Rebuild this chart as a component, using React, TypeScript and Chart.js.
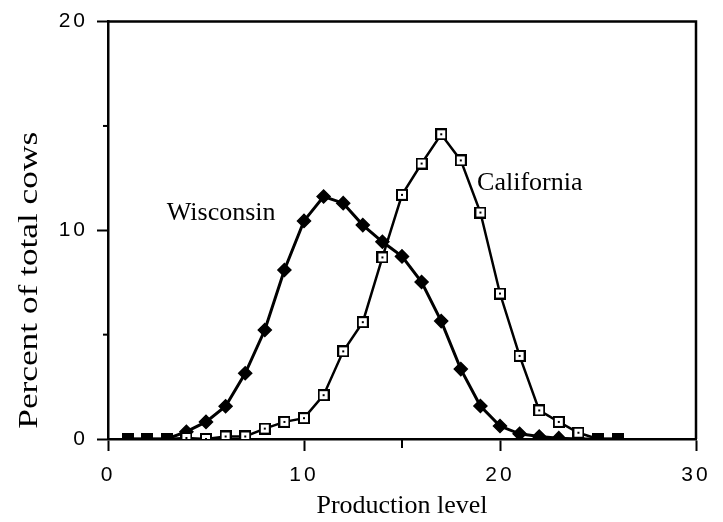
import React, { useEffect, useRef } from 'react';
import { Chart, registerables } from 'chart.js';

Chart.register(...registerables);

// Production levels (x)
const levels = [1, 2, 3, 4, 5, 6, 7, 8, 9, 10, 11, 12, 13, 14, 15, 16, 17, 18, 19, 20, 21, 22, 23, 24, 25, 26];
// Percent of total cows
const wisconsin = [0, 0, 0, 0.35, 0.82, 1.57, 3.15, 5.22, 8.1, 10.45, 11.62, 11.3, 10.25, 9.45, 8.75, 7.52, 5.65, 3.35, 1.58, 0.62, 0.25, 0.12, 0.04, 0, 0, 0];
const california = [0, 0, 0, 0.05, 0, 0.12, 0.12, 0.5, 0.82, 1.0, 2.1, 4.2, 5.6, 8.7, 11.7, 13.2, 14.6, 13.35, 10.85, 6.97, 3.98, 1.37, 0.82, 0.3, 0, 0];

const seriesNames = ['California', 'Wisconsin'];
const xTitle = 'Production level';
const yTitle = 'Percent of total cows';
const xLabelled = [0, 10, 20, 30];
const yLabelled = [0, 10, 20];
const xMinor = [15];
const yMinor = [5, 15];
const labelNotes = [
  { text: 'Wisconsin', x: 3.0, y: 10.47 },
  { text: 'California', x: 18.83, y: 11.94 },
];

function makeOpenSquare(): HTMLCanvasElement {
  const c = document.createElement('canvas');
  c.width = 12;
  c.height = 12;
  const g = c.getContext('2d')!;
  g.fillStyle = '#fff';
  g.fillRect(0, 0, 12, 12);
  g.strokeStyle = '#000';
  g.lineWidth = 2;
  g.strokeRect(1, 1, 10, 10);
  g.fillStyle = '#000';
  g.fillRect(5, 5, 2, 2);
  return c;
}

function makeFilledSquare(): HTMLCanvasElement {
  const c = document.createElement('canvas');
  c.width = 12;
  c.height = 12;
  const g = c.getContext('2d')!;
  g.fillStyle = '#000';
  g.fillRect(0, 0, 12, 12);
  return c;
}

const framePlugin = {
  id: 'frameAndNotes',
  beforeDatasetsDraw(chart: any) {
    const { ctx, chartArea: a, scales } = chart;
    ctx.save();
    ctx.strokeStyle = '#000';
    ctx.lineWidth = 2.5;
    ctx.beginPath();
    ctx.moveTo(a.left, a.top);
    ctx.lineTo(a.right, a.top);
    ctx.lineTo(a.right, a.bottom);
    ctx.stroke();
    ctx.lineWidth = 2;
    xMinor.forEach((v) => {
      const px = scales.x.getPixelForValue(v);
      ctx.beginPath();
      ctx.moveTo(px, a.bottom);
      ctx.lineTo(px, a.bottom + 9);
      ctx.stroke();
    });
    yMinor.forEach((v) => {
      const py = scales.y.getPixelForValue(v);
      ctx.beginPath();
      ctx.moveTo(a.left - 5, py);
      ctx.lineTo(a.left, py);
      ctx.stroke();
    });
    // y axis title (stretched along its length like the scanned original)
    const cy = (scales.y.getPixelForValue(0) + scales.y.getPixelForValue(20)) / 2 + 50;
    ctx.translate(37, cy);
    ctx.rotate(-Math.PI / 2);
    ctx.scale(1.26, 1);
    ctx.fillStyle = '#000';
    ctx.font = '28px "Liberation Serif"';
    ctx.textAlign = 'center';
    ctx.textBaseline = 'alphabetic';
    ctx.fillText(yTitle, 0, 0);
    ctx.restore();
  },
  afterDatasetsDraw(chart: any) {
    const { ctx, scales } = chart;
    ctx.save();
    ctx.fillStyle = '#000';
    ctx.font = '26px "Liberation Serif"';
    ctx.textAlign = 'left';
    ctx.textBaseline = 'alphabetic';
    labelNotes.forEach((n) => {
      ctx.fillText(n.text, scales.x.getPixelForValue(n.x), scales.y.getPixelForValue(n.y));
    });
    ctx.restore();
    (ctx as any).letterSpacing = '3px';
  },
  afterDraw(chart: any) {
    (chart.ctx as any).letterSpacing = '0px';
  },
};

export default function App() {
  const ref = useRef<HTMLCanvasElement>(null);

  useEffect(() => {
    if (!ref.current) return;
    const openSq = makeOpenSquare();
    const filledSq = makeFilledSquare();
    const bothZero = levels.map((_, i) => wisconsin[i] === 0 && california[i] === 0);

    const chart = new Chart(ref.current, {
      type: 'line',
      data: {
        datasets: [
          {
            label: seriesNames[0],
            data: levels.map((x, i) => ({ x, y: california[i] })),
            borderColor: '#000',
            borderWidth: 2.5,
            backgroundColor: '#000',
            pointStyle: bothZero.map((z) => (z ? filledSq : openSq)) as any,
            pointRadius: 6,
            tension: 0,
          },
          {
            label: seriesNames[1],
            data: levels.map((x, i) => ({ x, y: wisconsin[i] })),
            borderColor: '#000',
            borderWidth: 3,
            backgroundColor: '#000',
            pointBackgroundColor: '#000',
            pointBorderColor: '#000',
            pointBorderWidth: 1.5,
            pointStyle: 'rectRot',
            pointRadius: bothZero.map((z) => (z ? 0 : 6.5)),
            tension: 0,
          },
        ],
      },
      options: {
        animation: false,
        responsive: false,
        layout: { padding: { top: 16, right: 27, left: 0, bottom: 0 } },
        plugins: {
          legend: { display: false },
          tooltip: { enabled: false },
        },
        scales: {
          x: {
            type: 'linear',
            position: 'bottom',
            min: 0,
            max: 30,
            afterFit: (s: any) => {
              s.height = 83;
            },
            ticks: {
              stepSize: 10,
              autoSkip: false,
              maxRotation: 0,
              padding: 12,
              z: 1,
              color: '#000',
              font: { family: 'Liberation Sans', size: 21 },
              callback: (v: any) => (xLabelled.includes(Number(v)) ? String(v) : ''),
            },
            grid: {
              drawOnChartArea: false,
              drawTicks: true,
              tickLength: 12,
              tickWidth: 2,
              tickColor: '#000',
            },
            border: { display: true, color: '#000', width: 2.5 },
            title: {
              display: true,
              text: xTitle,
              color: '#000',
              font: { family: 'Liberation Serif', size: 26 },
              padding: { top: 0, bottom: 0 },
            },
          },
          y: {
            type: 'linear',
            min: 0,
            max: 20,
            afterFit: (s: any) => {
              s.width = 108;
            },
            ticks: {
              stepSize: 10,
              autoSkip: false,
              padding: 9,
              z: 1,
              color: '#000',
              font: { family: 'Liberation Sans', size: 21 },
              callback: (v: any) => (yLabelled.includes(Number(v)) ? String(v) : ''),
            },
            grid: {
              drawOnChartArea: false,
              drawTicks: true,
              tickLength: 11,
              tickWidth: 2,
              tickColor: '#000',
            },
            border: { display: true, color: '#000', width: 2.5 },
            title: { display: false, text: yTitle },
          },
        },
      },
      plugins: [framePlugin],
    });
    return () => chart.destroy();
  }, []);

  return (
    <div style={{ position: 'fixed', left: 0, top: 0, width: 723, height: 522, background: '#fff' }}>
      <canvas ref={ref} width={723} height={522} style={{ display: 'block' }} />
    </div>
  );
}
